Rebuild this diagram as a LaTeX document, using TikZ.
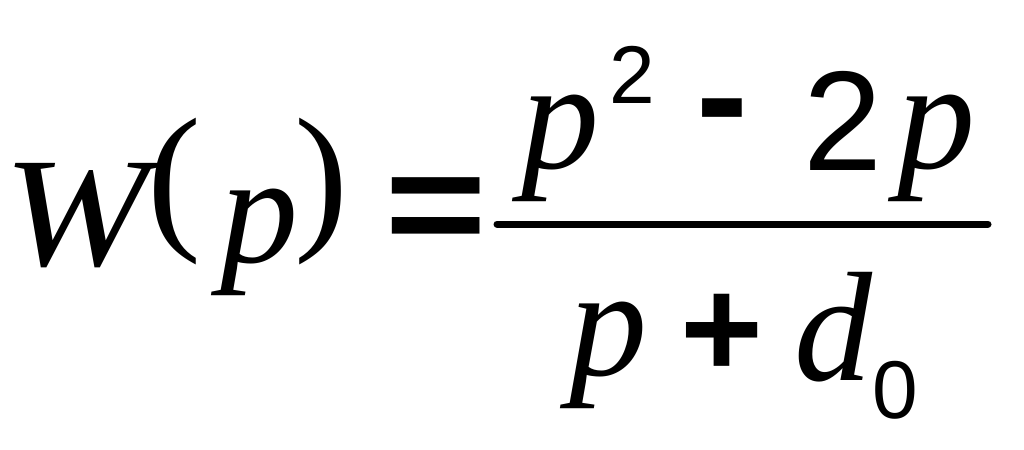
\documentclass[tikz,border=0pt]{standalone}
\usepackage{graphicx}
\usepackage{fontspec}
\setmainfont{Liberation Serif}
\newfontfamily\symfont{Liberation Sans}
\newfontfamily\relfont{DejaVu Sans}
\usetikzlibrary{positioning}

\begin{document}
\begin{tikzpicture}[
      x=0.5pt, y=-0.5pt,
      every node/.style={inner sep=0pt, outer sep=0pt},
      var/.style={anchor=base, font=\fontsize{78}{80}\selectfont\itshape},
      paren/.style={anchor=south, font=\fontsize{81}{84}\selectfont},
      digit/.style={anchor=base, font=\fontsize{71}{74}\selectfont\symfont},
      script/.style={anchor=base, font=\fontsize{41}{44}\selectfont\symfont},
      oper/.style={anchor=center, font=\fontsize{78}{80}\selectfont\symfont\bfseries},
      bar/.style={line width=3.5pt, line cap=round}
    ]
    \useasboundingbox (0,0) rectangle (1024,450);

    % left-hand side
    \node[var] (w) at (76,265) {\scalebox{1.12}[1]{W}};
    \node[paren] (lpar) at (174,265) {(};
    \node[var] (arg) at (259,262) {p};
    \node[paren] (rpar) at (321,265) {)};
    \node[anchor=center, font=\fontsize{100}{102}\selectfont\relfont] (eq) at (436,223) {\scalebox{0.7}[1]{=}};

    % numerator
    \node[var] (np) at (560,168) {p};
    \node[script] (sq) at (632,103) {2};
    \node[oper] (minus) at (722,124) {-};
    \node[digit] (two) at (843,170) {2};
    \node[var] (np2) at (936,168) {p};

    % fraction bar
    \coordinate (barl) at (497,224);
    \coordinate (barr) at (988,224);
    \draw[bar] (barl) -- (barr);

    % denominator
    \node[var] (dp) at (608,375) {p};
    \node[oper, font=\fontsize{71}{74}\selectfont\symfont\bfseries] (plus) at (722,336) {+};
    \node[var] (d) at (833,380) {d};
    \node[script] (zero) at (895,418) {0};
\end{tikzpicture}
\end{document}
